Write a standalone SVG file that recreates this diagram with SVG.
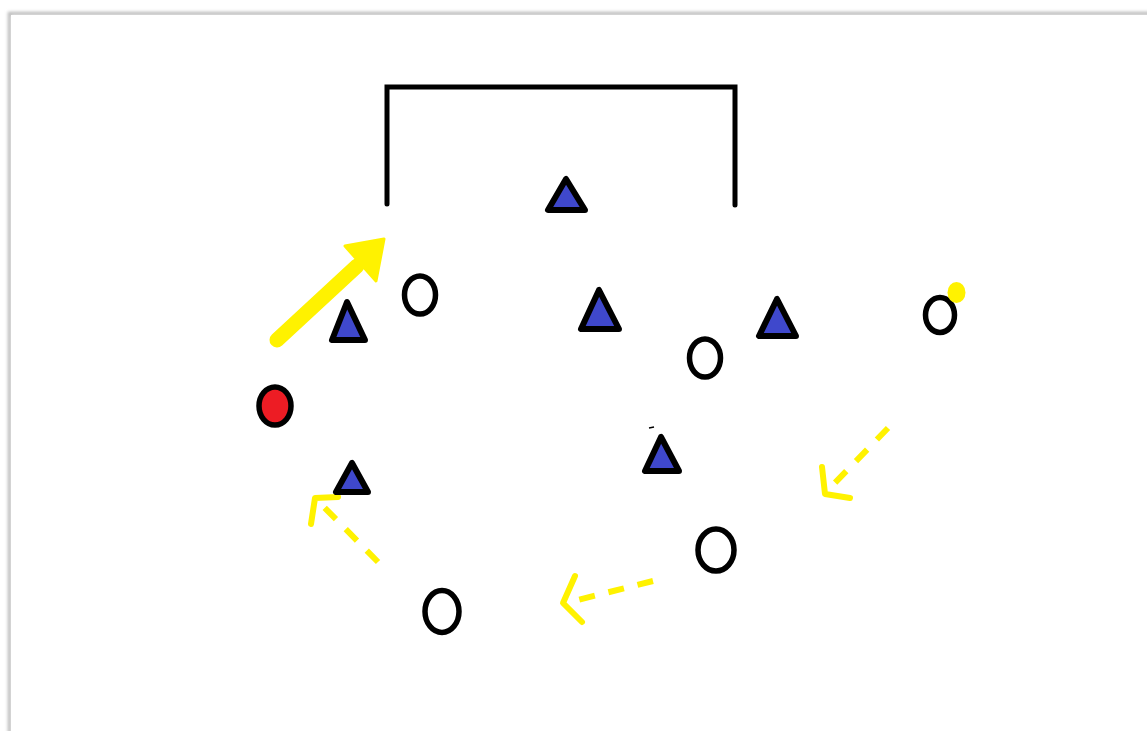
<svg xmlns="http://www.w3.org/2000/svg" width="1147" height="731" viewBox="0 0 1147 731">
  <defs>
    <style>
      .tri{fill:#3F48CC;stroke:#000;stroke-width:6;stroke-linejoin:round}
      .ply{fill:#fff;stroke:#000;stroke-width:5.5}
      .goal{fill:none;stroke:#000;stroke-width:5;stroke-linecap:round;stroke-linejoin:miter}
      .dash{fill:none;stroke:#FFF200;stroke-width:6;stroke-dasharray:16 14;stroke-linecap:butt}
      .chev{fill:none;stroke:#FFF200;stroke-width:6;stroke-linecap:round;stroke-linejoin:round}
    </style>
    <filter id="sh" x="-5%" y="-5%" width="110%" height="110%">
      <feGaussianBlur stdDeviation="1.5"/>
    </filter>
  </defs>
  <rect x="0" y="0" width="1147" height="731" fill="#ffffff"/>
  <g id="page">
    <rect x="9.5" y="13.5" width="1160" height="740" fill="none" stroke="#bdbdbd" stroke-width="3.5" filter="url(#sh)"/>
    <rect x="11" y="15" width="1160" height="740" fill="#ffffff"/>
  </g>
  <g id="goal">
    <path class="goal" d="M387 204 V87 H735 V205"/>
  </g>
  <g id="connectors">
    <g id="big-arrow">
      <line x1="277" y1="340" x2="357" y2="266" stroke="#FFF200" stroke-width="15" stroke-linecap="round"/>
      <polygon points="384,239 345,246 376,281" fill="#FFF200" stroke="#FFF200" stroke-width="3" stroke-linejoin="round"/>
    </g>
    <g id="run-right">
      <line class="dash" x1="888" y1="428" x2="828" y2="490"/>
      <polyline class="chev" points="822,467 825,494 850,498"/>
    </g>
    <g id="run-bottom">
      <line class="dash" x1="653" y1="581" x2="566" y2="603"/>
      <polyline class="chev" points="575,576 563,603 582,622"/>
    </g>
    <g id="run-left">
      <line class="dash" x1="378" y1="562" x2="318" y2="501"/>
      <polyline class="chev" points="311,524 315,498 338,497"/>
    </g>
  </g>
  <g id="defender-1"><polygon class="tri" points="566,179 548,210 585,210"/></g>
  <g id="defender-2"><polygon class="tri" points="347,302 332,340 365,340"/></g>
  <g id="defender-3"><polygon class="tri" points="599,290 581,329 619,329"/></g>
  <g id="defender-4"><polygon class="tri" points="777,299 759,336 796,336"/></g>
  <g id="defender-5"><polygon class="tri" points="352,463 336,492 368,492"/></g>
  <g id="defender-6"><polygon class="tri" points="661,437 645,471 679,471"/><line x1="649" y1="428" x2="654" y2="427" stroke="#000" stroke-width="1.5"/></g>
  <g id="attacker-1"><ellipse class="ply" cx="420" cy="295" rx="15.5" ry="19"/></g>
  <g id="attacker-2"><ellipse class="ply" cx="705" cy="358" rx="15.5" ry="19"/></g>
  <g id="attacker-3"><ellipse class="ply" cx="940" cy="315" rx="14.5" ry="17.5"/><ellipse cx="956.5" cy="292.5" rx="9" ry="10.5" fill="#FFF200"/></g>
  <g id="attacker-4"><ellipse class="ply" cx="716" cy="550" rx="18" ry="21"/></g>
  <g id="attacker-5"><ellipse class="ply" cx="442" cy="611.5" rx="17" ry="21"/></g>
  <g id="ball-carrier"><ellipse cx="275" cy="406" rx="16" ry="19" fill="#ED1C24" stroke="#000" stroke-width="5.5"/></g>
</svg>
